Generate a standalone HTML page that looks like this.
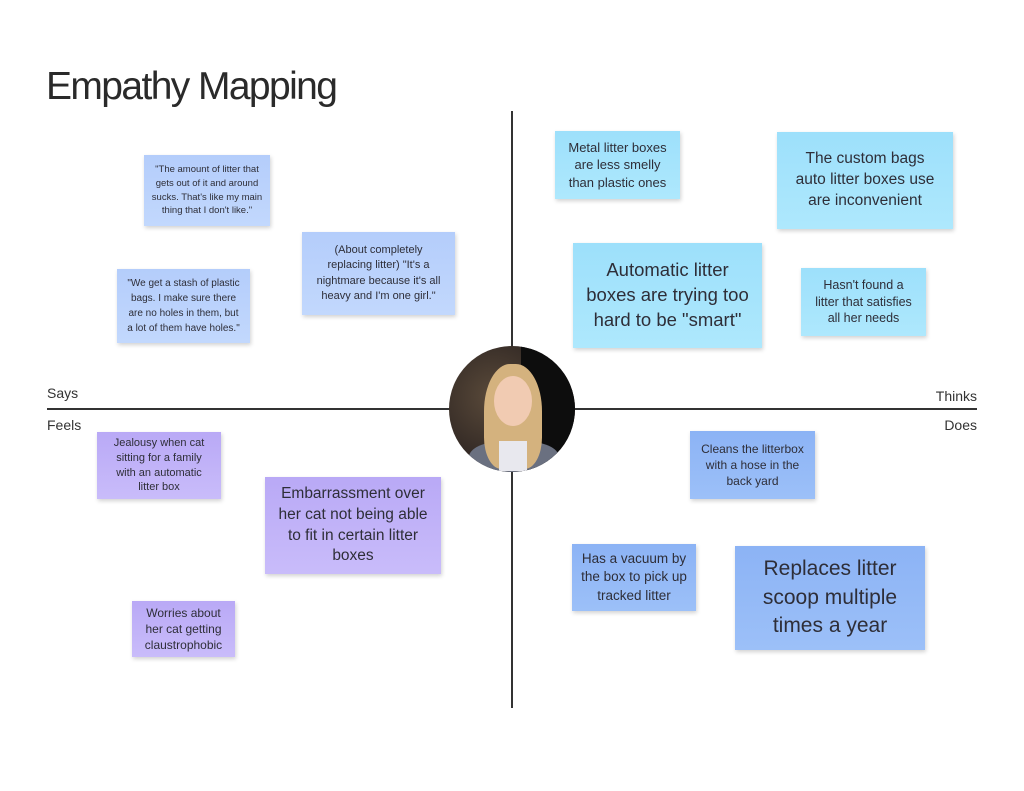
<!DOCTYPE html>
<html><head><meta charset="utf-8"><style>
body{margin:0;width:1024px;height:791px;background:#fff;position:relative;overflow:hidden;font-family:"Liberation Sans",sans-serif;color:#222}
.t{position:absolute;}
.n{position:absolute;display:flex;align-items:center;justify-content:center;text-align:center;box-shadow:1px 2px 4px rgba(0,0,0,0.18);color:#2e2e38;line-height:1.35;box-sizing:border-box;padding:0 6px}
.lb{background:linear-gradient(#b4cdfb,#c2d8fd)}
.cy{background:linear-gradient(#9de0fb,#aee8fd)}
.bl{background:linear-gradient(#8cb3f5,#9cc0f8)}
.pu{background:linear-gradient(#b9a9f6,#c9bcfa)}
.lab{position:absolute;font-size:14px;color:#333}
</style></head><body>
<div class="t" style="left:46px;top:65px;font-size:39px;letter-spacing:-1.6px;color:#2a2a2a">Empathy Mapping</div>
<div style="position:absolute;left:47px;top:408px;width:930px;height:2px;background:#333"></div>
<div style="position:absolute;left:511px;top:111px;width:2px;height:597px;background:#333"></div>
<div class="lab" style="left:47px;top:385px">Says</div>
<div class="lab" style="right:47px;top:388px">Thinks</div>
<div class="lab" style="left:47px;top:417px">Feels</div>
<div class="lab" style="right:47px;top:417px">Does</div>
<div style="position:absolute;left:449px;top:346px;width:126px;height:126px;border-radius:50%;overflow:hidden;background:radial-gradient(circle at 35% 40%,#5a4a3a,#2a2220 70%)">
<div style="position:absolute;left:72px;top:0;width:60px;height:130px;background:#0d0d0d"></div>
<div style="position:absolute;left:20px;top:95px;width:90px;height:40px;background:#6a7080;border-radius:40% 40% 0 0"></div>
<div style="position:absolute;left:35px;top:18px;width:58px;height:105px;background:#d4b27e;border-radius:45% 45% 30% 30%"></div>
<div style="position:absolute;left:45px;top:30px;width:38px;height:50px;background:#f1cbb2;border-radius:50%"></div>
<div style="position:absolute;left:50px;top:95px;width:28px;height:30px;background:#e8e8ee"></div>
</div>
<div class="n lb" style="left:144px;top:155px;width:126px;height:71px;font-size:9.5px;line-height:1.45;padding:0 4px">"The amount of litter that gets out of it and around sucks. That's like my main thing that I don't like."</div>
<div class="n lb" style="left:302px;top:232px;width:153px;height:83px;font-size:11px;line-height:1.4;padding:0 9px">(About completely replacing litter) "It's a nightmare because it's all heavy and I'm one girl."</div>
<div class="n lb" style="left:117px;top:269px;width:133px;height:74px;font-size:10px;line-height:1.5;padding:0 9px">"We get a stash of plastic bags. I make sure there are no holes in them, but a lot of them have holes."</div>
<div class="n cy" style="left:555px;top:131px;width:125px;height:68px;font-size:13px;padding:0 12px">Metal litter boxes are less smelly than plastic ones</div>
<div class="n cy" style="left:777px;top:132px;width:176px;height:97px;font-size:15.5px;padding:0 14px">The custom bags auto litter boxes use are inconvenient</div>
<div class="n cy" style="left:573px;top:243px;width:189px;height:105px;font-size:18.5px;padding:0 8px">Automatic litter boxes are trying too hard to be "smart"</div>
<div class="n cy" style="left:801px;top:268px;width:125px;height:68px;font-size:12.5px;padding:0 14px">Hasn't found a litter that satisfies all her needs</div>
<div class="n pu" style="left:97px;top:432px;width:124px;height:67px;font-size:11px;padding:0 14px">Jealousy when cat sitting for a family with an automatic litter box</div>
<div class="n pu" style="left:265px;top:477px;width:176px;height:97px;font-size:15.5px;padding:0 12px">Embarrassment over her cat not being able to fit in certain litter boxes</div>
<div class="n pu" style="left:132px;top:601px;width:103px;height:56px;font-size:12px;padding:0 8px">Worries about her cat getting claustrophobic</div>
<div class="n bl" style="left:690px;top:431px;width:125px;height:68px;font-size:12px;padding:0 8px">Cleans the litterbox with a hose in the back yard</div>
<div class="n bl" style="left:572px;top:544px;width:124px;height:67px;font-size:13.5px;padding:0 8px">Has a vacuum by the box to pick up tracked litter</div>
<div class="n bl" style="left:735px;top:546px;width:190px;height:104px;font-size:21px;padding:0 18px">Replaces litter scoop multiple times a year</div>
</body></html>
